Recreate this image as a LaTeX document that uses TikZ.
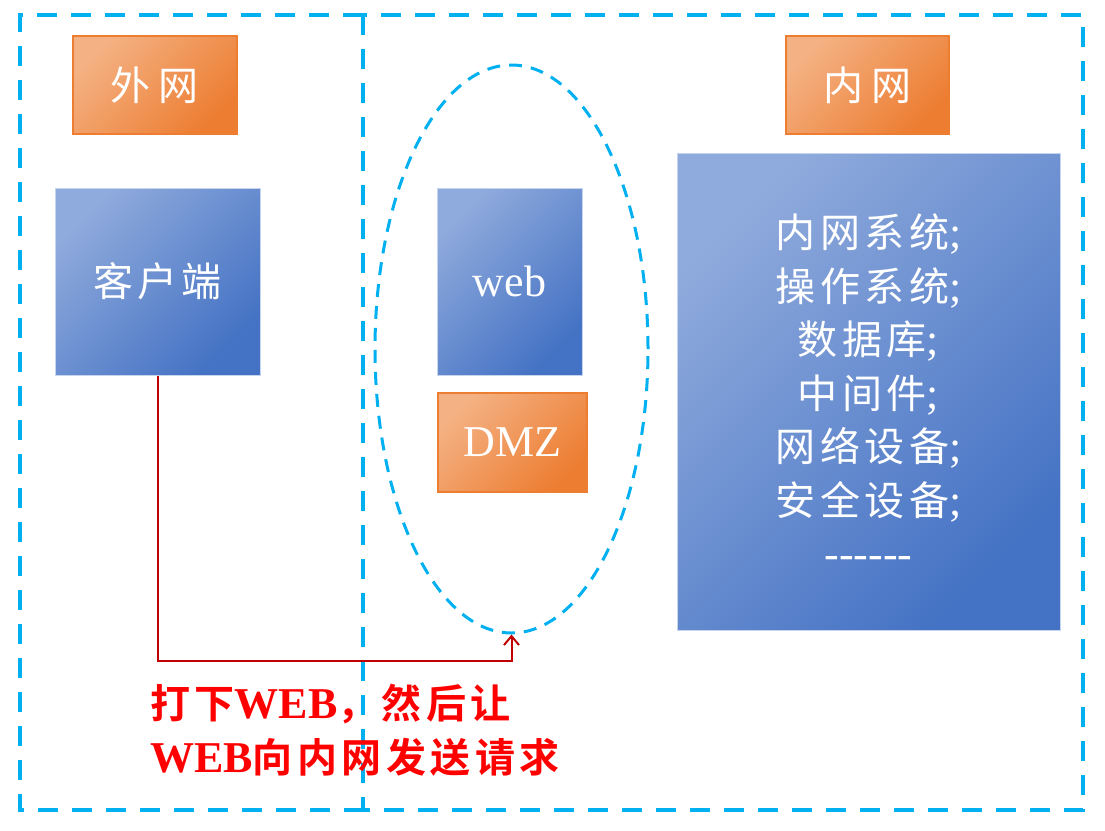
\documentclass[tikz,border=0pt]{standalone}
\usepackage{fontspec}
\setmainfont{Liberation Serif}
\newfontfamily\cjk[Scale=0.91,LetterSpace=11,BoldFont={Noto Sans CJK SC Bold}]{Noto Sans CJK SC}
\usetikzlibrary{arrows.meta,shapes.geometric}
\definecolor{zoneblue}{HTML}{00B0F0}
\definecolor{boxlight}{HTML}{8FAADC}
\definecolor{boxdark}{HTML}{4472C4}
\definecolor{taglight}{HTML}{F4B183}
\definecolor{tagdark}{HTML}{ED7D31}
\definecolor{pathred}{HTML}{C00000}

\begin{document}
\begin{tikzpicture}[x=1pt,y=-1pt,
  hostbox/.style={rectangle,draw=boxlight!50!white,line width=1pt,top color=boxlight,bottom color=boxdark,
    shading angle=45,text=white,align=center,inner sep=0pt,font=\fontsize{44}{53.5}\selectfont},
  tagbox/.style={rectangle,draw=tagdark,line width=2pt,top color=taglight,bottom color=tagdark,
    shading angle=45,text=white,align=center,inner sep=0pt,font=\fontsize{44}{53.5}\selectfont},
  frame/.style={draw=zoneblue,line width=4pt,dash pattern=on 20pt off 14pt},
  arr/.style={-{Straight Barb[length=9pt,width=15pt]},draw=pathred,line width=2pt}]
\useasboundingbox (0,0) rectangle (1105,830);
% two zones
\draw[frame] (363,15) -- (20,15) -- (20,810) -- (363,810);
\draw[frame] (363,15) rectangle (1083,810);
% outside
\node[tagbox,minimum width=164pt,minimum height=98pt] (outer) at (155,85) {{\cjk 外\kern8pt 网}};
\node[hostbox,minimum width=205pt,minimum height=187pt] (client) at (157.5,281.5) {{\cjk 客户端}};
% dmz
\node[ellipse,draw=zoneblue,line width=3pt,dash pattern=on 13pt off 9pt,
  minimum width=273pt,minimum height=568pt] (dmzzone) at (511.5,349) {};
\node[hostbox,minimum width=145pt,minimum height=187pt] (web) at (509.5,281.5) {web};
\node[tagbox,minimum width=149pt,minimum height=99pt] (dmz) at (512.5,442.5) {DMZ};
% inside
\node[tagbox,minimum width=163pt,minimum height=98pt] (inner) at (867.5,85) {{\cjk 内\kern8pt 网}};
\node[hostbox,minimum width=383pt,minimum height=477pt] (intranet) at (868.5,391.5)
  {{\cjk 内网系统};\\{\cjk 操作系统};\\{\cjk 数据库};\\{\cjk 中间件};\\{\cjk 网络设备};\\{\cjk 安全设备};\\
   -{}-{}-{}-{}-{}-};
% attack path
\coordinate (bend) at (156,661);
\draw[arr] (client.south) -- (client.south |- bend) -| (dmzzone.south);
\node[anchor=west,align=left,text=red,inner sep=0pt,font=\fontsize{44}{54}\selectfont\bfseries] (note) at (150,730)
  {{\cjk 打下}WEB{\cjk ，然后让}\\WEB{\cjk 向内网发送请求}};
\end{tikzpicture}
\end{document}
